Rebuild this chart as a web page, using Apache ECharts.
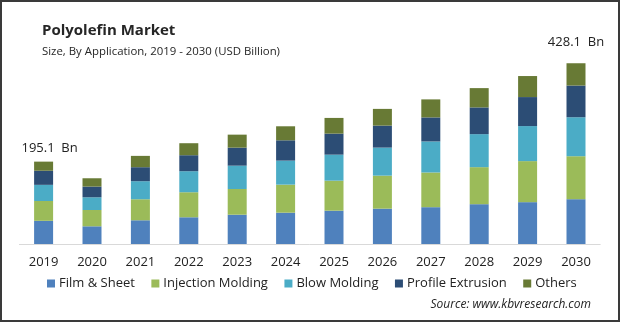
<!DOCTYPE html>
<html><head><meta charset="utf-8">
<script src="https://cdn.jsdelivr.net/npm/echarts@6/dist/echarts.min.js"></script>
<style>html,body{margin:0;padding:0;background:#fff}#c{width:620px;height:322px}</style>
</head><body><div id="c"></div>
<script>
const years = ['2019','2020','2021','2022','2023','2024','2025','2026','2027','2028','2029','2030'];
const filmSheet = [54.9, 41.9, 56.2, 63.3, 69.4, 74.2, 78.9, 83.7, 87.2, 94.3, 99.1, 106.1];
const injectionMolding = [47.0, 38.6, 49.8, 59.3, 60.9, 66.4, 71.1, 78.2, 82.2, 87.7, 97.2, 101.8];
const blowMolding = [38.2, 30.1, 42.7, 49.8, 55.2, 56.9, 61.6, 66.4, 73.5, 78.2, 83.0, 92.3];
const profileExtrusion = [33.4, 25.4, 33.2, 37.9, 42.7, 48.1, 49.8, 52.1, 56.9, 63.3, 68.7, 75.1];
const others = [21.6, 19.7, 26.8, 28.4, 30.8, 33.2, 37.2, 39.6, 42.7, 45.7, 49.8, 52.8];
const totalLabels = {0: '195.1  Bn', 11: '428.1  Bn'};

const seriesNames = ['Film & Sheet','Injection Molding','Blow Molding','Profile Extrusion','Others'];
const colors = ['#4f81bd','#9bbb59','#4bacc6','#2c4d75','#687a35'];
const FONT = '"Open Sans", sans-serif';

const chart = echarts.init(document.getElementById('c'), null, {renderer:'canvas'});
const dataSets = [filmSheet, injectionMolding, blowMolding, profileExtrusion, others];
const series = dataSets.map((d, si) => ({
  name: seriesNames[si],
  type: 'bar',
  stack: 'total',
  barWidth: 19,
  itemStyle: {color: colors[si]},
  data: d.map((v, i) => {
    if (si === 4 && totalLabels[i] !== undefined) {
      return {value: v, label: {show: true, position: 'top', formatter: totalLabels[i],
        offset: i === 0 ? [6, -2] : [0, -9], color: '#222', fontSize: 13, fontFamily: FONT}};
    }
    return v;
  })
}));

chart.setOption({
  animation: false,
  color: colors,
  title: [
    {text: 'Polyolefin Market', left: 37, top: 18,
     textStyle: {fontFamily: FONT, fontSize: 15, fontWeight: 'bold', color: '#262626'}},
    {text: 'Size, By Application, 2019 - 2030 (USD Billion)', left: 37, top: 41,
     textStyle: {fontFamily: FONT, fontSize: 11.4, fontWeight: 'normal', color: '#262626'}}
  ],
  grid: {left: 19.4, right: 19.8, top: 54, bottom: 78},
  xAxis: {type: 'category', data: years,
    axisLine: {lineStyle: {color: '#d9d9d9', width: 1}},
    axisTick: {show: false},
    axisLabel: {fontFamily: FONT, fontSize: 13, color: '#222', margin: 12}},
  yAxis: {type: 'value', min: 0, max: 450, show: false, splitLine: {show: false}},
  legend: {left: 42, top: 272, itemWidth: 8, itemHeight: 8, itemGap: 16.5, icon: 'rect',
    textStyle: {fontFamily: FONT, fontSize: 13, color: '#222', padding: [0,0,0,-1]},
    data: seriesNames},
  graphic: [
    {type: 'text', right: 29, top: 299,
     style: {text: 'Source: www.kbvresearch.com', font: 'italic 12px "Open Sans", sans-serif', fill: '#222'}},
    {type: 'rect', shape: {x: 1, y: 1, width: 618, height: 320},
     style: {fill: 'none', stroke: '#3a3a3a', lineWidth: 2}, silent: true}
  ],
  series: series
});
</script></body></html>
